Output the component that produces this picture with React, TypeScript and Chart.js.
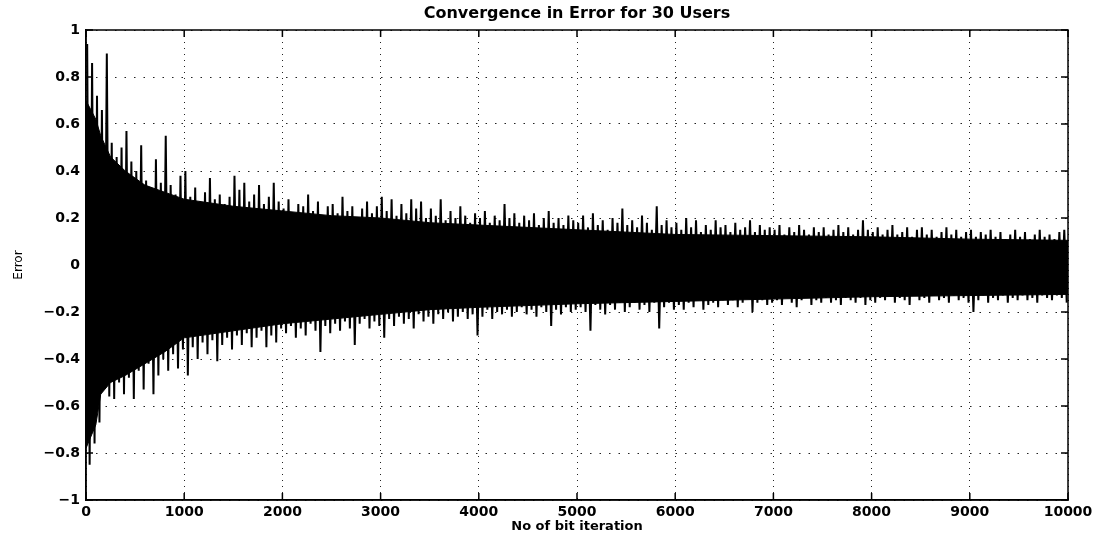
import React, { useEffect, useRef } from "react";
import { Chart, registerables } from "chart.js";

Chart.register(...registerables);

const TITLE = "Convergence in Error for 30 Users";
const X_LABEL = "No of bit iteration";
const Y_LABEL = "Error";

const X_MIN = 0;
const X_MAX = 10000;
const X_STEP = 1000;
const Y_MIN = -1;
const Y_MAX = 1;
const Y_STEP = 0.2;

// Each bin covers 50 iterations: highest and lowest error seen in it
const BIN_SIZE = 50;

const UPPER_PEAKS = [
  0.94, 0.86, 0.72, 0.66, 0.90, 0.52, 0.46, 0.50, 0.57, 0.44,
  0.40, 0.51, 0.36, 0.33, 0.45, 0.35, 0.55, 0.34, 0.30, 0.38,
  0.40, 0.29, 0.33, 0.27, 0.31, 0.37, 0.28, 0.30, 0.26, 0.29,
  0.38, 0.32, 0.35, 0.27, 0.30, 0.34, 0.26, 0.29, 0.35, 0.27,
  0.24, 0.28, 0.22, 0.26, 0.25, 0.30, 0.23, 0.27, 0.21, 0.25,
  0.26, 0.22, 0.29, 0.23, 0.25, 0.20, 0.24, 0.27, 0.22, 0.25,
  0.29, 0.23, 0.28, 0.21, 0.26, 0.22, 0.28, 0.24, 0.27, 0.20,
  0.24, 0.21, 0.28, 0.19, 0.23, 0.20, 0.25, 0.21, 0.18, 0.22,
  0.20, 0.23, 0.18, 0.21, 0.19, 0.26, 0.20, 0.22, 0.18, 0.21,
  0.19, 0.22, 0.17, 0.20, 0.23, 0.18, 0.20, 0.17, 0.21, 0.19,
  0.18, 0.21, 0.16, 0.22, 0.17, 0.19, 0.15, 0.20, 0.18, 0.24,
  0.17, 0.19, 0.16, 0.21, 0.18, 0.15, 0.25, 0.17, 0.19, 0.16,
  0.18, 0.15, 0.20, 0.16, 0.19, 0.14, 0.17, 0.15, 0.19, 0.16,
  0.17, 0.14, 0.18, 0.15, 0.16, 0.19, 0.14, 0.17, 0.15, 0.16,
  0.15, 0.17, 0.13, 0.16, 0.14, 0.17, 0.15, 0.13, 0.16, 0.14,
  0.16, 0.13, 0.15, 0.17, 0.14, 0.16, 0.13, 0.15, 0.19, 0.15,
  0.14, 0.16, 0.13, 0.15, 0.17, 0.13, 0.14, 0.16, 0.12, 0.15,
  0.16, 0.13, 0.15, 0.12, 0.14, 0.16, 0.13, 0.15, 0.12, 0.14,
  0.15, 0.12, 0.14, 0.13, 0.15, 0.12, 0.14, 0.11, 0.13, 0.15,
  0.12, 0.14, 0.11, 0.13, 0.15, 0.12, 0.13, 0.11, 0.14, 0.15,
];

const LOWER_PEAKS = [
  -0.85, -0.76, -0.67, -0.52, -0.56, -0.57, -0.50, -0.55, -0.48, -0.57,
  -0.45, -0.53, -0.42, -0.55, -0.47, -0.40, -0.45, -0.38, -0.44, -0.36,
  -0.47, -0.35, -0.40, -0.33, -0.38, -0.32, -0.41, -0.34, -0.31, -0.36,
  -0.30, -0.34, -0.29, -0.35, -0.31, -0.28, -0.35, -0.30, -0.33, -0.27,
  -0.29, -0.26, -0.31, -0.27, -0.30, -0.25, -0.28, -0.37, -0.26, -0.29,
  -0.25, -0.28, -0.24, -0.27, -0.34, -0.25, -0.23, -0.27, -0.24, -0.26,
  -0.31, -0.23, -0.26, -0.22, -0.25, -0.23, -0.27, -0.21, -0.24, -0.22,
  -0.25, -0.21, -0.23, -0.20, -0.24, -0.22, -0.20, -0.23, -0.21, -0.30,
  -0.22, -0.19, -0.23, -0.20, -0.21, -0.19, -0.22, -0.20, -0.18, -0.21,
  -0.19, -0.22, -0.18, -0.20, -0.26, -0.19, -0.21, -0.18, -0.20, -0.19,
  -0.18, -0.20, -0.28, -0.17, -0.19, -0.21, -0.17, -0.19, -0.16, -0.20,
  -0.18, -0.16, -0.19, -0.17, -0.20, -0.16, -0.27, -0.18, -0.16, -0.19,
  -0.17, -0.19, -0.16, -0.18, -0.15, -0.19, -0.17, -0.16, -0.18, -0.15,
  -0.17, -0.15, -0.18, -0.16, -0.14, -0.20, -0.16, -0.15, -0.17, -0.16,
  -0.15, -0.17, -0.14, -0.16, -0.18, -0.15, -0.14, -0.17, -0.15, -0.16,
  -0.14, -0.16, -0.15, -0.17, -0.14, -0.15, -0.16, -0.14, -0.17, -0.15,
  -0.16, -0.14, -0.15, -0.13, -0.16, -0.14, -0.15, -0.17, -0.13, -0.15,
  -0.14, -0.16, -0.13, -0.15, -0.14, -0.16, -0.13, -0.15, -0.14, -0.16,
  -0.20, -0.15, -0.13, -0.16, -0.14, -0.15, -0.13, -0.16, -0.14, -0.15,
  -0.13, -0.15, -0.14, -0.16, -0.13, -0.14, -0.15, -0.13, -0.14, -0.16,
];

// Solid dark core of the error trace (where the trace fills in completely)
const CORE_ITERS = [0, 100, 150, 250, 400, 600, 800, 1000, 1500, 2000, 2500, 3000, 3500, 4000, 5000, 6000, 7000, 8000, 9000, 10000];
const CORE_UPPER = [0.70, 0.62, 0.55, 0.46, 0.40, 0.34, 0.31, 0.28, 0.25, 0.23, 0.21, 0.20, 0.18, 0.17, 0.15, 0.13, 0.125, 0.12, 0.11, 0.105];
const CORE_LOWER = [-0.78, -0.68, -0.55, -0.50, -0.47, -0.42, -0.37, -0.31, -0.28, -0.25, -0.23, -0.21, -0.19, -0.18, -0.165, -0.155, -0.145, -0.135, -0.13, -0.125];

const FONT = "'DejaVu Sans', 'Liberation Sans', Arial, sans-serif";

const formatY = (v: number) => {
  const r = Number(v.toFixed(1));
  if (r === 0) return "0";
  return r < 0 ? "\u2212" + String(Math.abs(r)) : String(r);
};

const framePlugin = {
  id: "matlabFrame",
  afterDatasetsDraw(chart: any) {
    const { ctx, chartArea: a, scales } = chart;
    ctx.save();
    ctx.strokeStyle = "#000";
    ctx.lineWidth = 1.5;
    ctx.strokeRect(a.left, a.top, a.right - a.left, a.bottom - a.top);
    const len = 7;
    ctx.beginPath();
    scales.x.ticks.forEach((t: any) => {
      const px = scales.x.getPixelForValue(t.value);
      ctx.moveTo(px, a.bottom);
      ctx.lineTo(px, a.bottom - len);
      ctx.moveTo(px, a.top);
      ctx.lineTo(px, a.top + len);
    });
    scales.y.ticks.forEach((t: any) => {
      const py = scales.y.getPixelForValue(t.value);
      ctx.moveTo(a.left, py);
      ctx.lineTo(a.left + len, py);
      ctx.moveTo(a.right, py);
      ctx.lineTo(a.right - len, py);
    });
    ctx.stroke();
    ctx.restore();
  },
  afterDraw(chart: any) {
    const { ctx, chartArea: a } = chart;
    ctx.save();
    ctx.fillStyle = "#000";
    ctx.font = `bold 16px ${FONT}`;
    ctx.textAlign = "center";
    ctx.textBaseline = "middle";
    ctx.fillText(TITLE, (a.left + a.right) / 2, 14);
    ctx.restore();
  },
};

export default function App() {
  const canvasRef = useRef<HTMLCanvasElement | null>(null);

  useEffect(() => {
    if (!canvasRef.current) return;

    const tracePoints: { x: number; y: number }[] = [];
    UPPER_PEAKS.forEach((u, i) => {
      tracePoints.push({ x: i * BIN_SIZE + 12, y: u });
      tracePoints.push({ x: i * BIN_SIZE + 37, y: LOWER_PEAKS[i] });
    });
    const coreUp = CORE_ITERS.map((x, i) => ({ x, y: CORE_UPPER[i] }));
    const coreLow = CORE_ITERS.map((x, i) => ({ x, y: CORE_LOWER[i] }));

    const chart = new Chart(canvasRef.current, {
      type: "line",
      data: {
        datasets: [
          {
            label: "trace",
            data: tracePoints,
            borderColor: "#000",
            borderWidth: 2,
            pointRadius: 0,
            tension: 0,
            fill: false,
          },
          {
            label: "core upper",
            data: coreUp,
            borderColor: "#000",
            borderWidth: 1,
            pointRadius: 0,
            tension: 0,
            backgroundColor: "#000",
            fill: "+1",
          },
          {
            label: "core lower",
            data: coreLow,
            borderColor: "#000",
            borderWidth: 1,
            pointRadius: 0,
            tension: 0,
            fill: false,
          },
        ],
      },
      options: {
        animation: false,
        responsive: false,
        parsing: false,
        normalized: true,
        layout: { padding: { left: 0, right: 39, top: 30, bottom: 0 } },
        plugins: {
          legend: { display: false },
          tooltip: { enabled: false },
          title: { display: false },
        },
        scales: {
          x: {
            type: "linear",
            min: X_MIN,
            max: X_MAX,
            ticks: {
              stepSize: X_STEP,
              color: "#000",
              font: { family: FONT, size: 14, weight: "bold" },
              padding: 4,
              maxRotation: 0,
              autoSkip: false,
              callback: (v: any) => String(Math.round(Number(v))),
            },
            grid: {
              color: "#222",
              lineWidth: 1,
              drawTicks: false,
            },
            border: { display: true, color: "#000", width: 1.5, dash: [1, 5] },
            title: {
              display: true,
              text: X_LABEL,
              color: "#000",
              font: { family: FONT, size: 13, weight: "bold" },
              padding: { top: 0, bottom: 3 },
            },
            afterFit: (scale: any) => {
              scale.height = 37;
            },
          },
          y: {
            type: "linear",
            min: Y_MIN,
            max: Y_MAX,
            ticks: {
              stepSize: Y_STEP,
              color: "#000",
              font: { family: FONT, size: 14, weight: "bold" },
              padding: 6,
              callback: (v: any) => formatY(Number(v)),
            },
            grid: {
              color: "#222",
              lineWidth: 1,
              drawTicks: false,
            },
            border: { display: true, color: "#000", width: 1.5, dash: [1.5, 8] },
            title: {
              display: true,
              text: Y_LABEL,
              color: "#000",
              font: { family: FONT, size: 12, weight: "normal" },
              padding: { top: 12, bottom: 0 },
            },
            afterFit: (scale: any) => {
              scale.width = 86;
            },
          },
        },
      },
      plugins: [framePlugin],
    } as any);

    return () => chart.destroy();
  }, []);

  return (
    <div
      style={{
        position: "absolute",
        left: 0,
        top: 0,
        width: 1107,
        height: 537,
        background: "#fff",
      }}
    >
      <canvas ref={canvasRef} width={1107} height={537} style={{ display: "block" }} />
    </div>
  );
}
